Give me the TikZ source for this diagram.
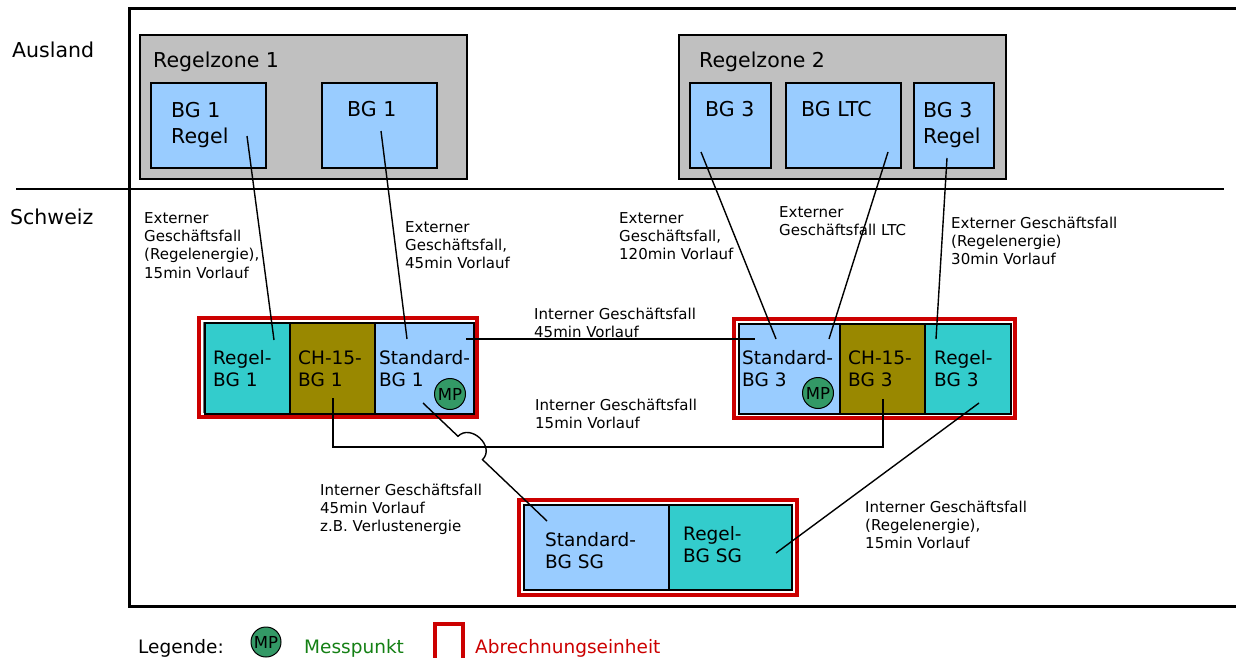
\documentclass[tikz,border=0pt]{standalone}
\usepackage{fontspec}
\setmainfont{DejaVu Sans}
\usetikzlibrary{calc}
\definecolor{zonegray}{RGB}{192,192,192}
\definecolor{bgblue}{RGB}{153,204,255}
\definecolor{bgteal}{RGB}{51,204,204}
\definecolor{bgolive}{RGB}{153,136,0}
\definecolor{aered}{RGB}{204,0,0}
\definecolor{mpgreen}{RGB}{51,153,102}
\definecolor{legendgreen}{RGB}{20,128,20}
\begin{document}
\begin{tikzpicture}[x=1pt,y=-1pt,
  zone/.style={draw=black,line width=1.8pt,fill=zonegray,anchor=north west,inner sep=0pt,outer sep=0pt},
  bgbox/.style={draw=black,line width=1.4pt,anchor=north west,inner sep=0pt,outer sep=0pt},
  ae/.style={draw=aered,line width=4pt,anchor=north west,inner sep=0pt,outer sep=0pt},
  aein/.style={draw=black!55,line width=0.8pt},
  conn/.style={draw=black,line width=1.4pt},
  lbl/.style={anchor=north west,inner sep=0pt,align=left,font=\fontsize{15}{18.3}\selectfont},
  bigtxt/.style={anchor=north west,inner sep=0pt,align=left,font=\fontsize{20.5}{26}\selectfont},
  bigone/.style={anchor=base west,inner sep=0pt,font=\fontsize{20.5}{26}\selectfont},
  midtxt/.style={anchor=north west,inner sep=0pt,align=left,font=\fontsize{18.5}{22}\selectfont},
  legtxt/.style={anchor=base west,inner sep=0pt,font=\fontsize{18.5}{22}\selectfont},
  mp/.style={circle,draw=black,line width=1pt,fill=mpgreen,minimum size=31pt,inner sep=0pt,font=\fontsize{16.5}{18}\selectfont}
]
\clip (0,0) rectangle (1236,658);
\fill[white] (0,0) rectangle (1236,658);

% frame and divider
\draw[line width=3pt] (1240,9) -- (129,9) -- (129,606) -- (1240,606);
\draw[line width=2pt] (16,189) -- (1224,189);
\node[bigone] (ausland) at (12,58) {Ausland};
\node[bigone] (schweiz) at (10,224) {Schweiz};

% Regelzonen
\node[zone,minimum width=327pt,minimum height=144pt] (rz1) at (140,35) {};
\node[bigone] (rz1t) at (153,68) {Regelzone 1};
\node[zone,minimum width=327pt,minimum height=144pt] (rz2) at (679,35) {};
\node[bigone] (rz2t) at (699,68) {Regelzone 2};

\node[bgbox,fill=bgblue,minimum width=115pt,minimum height=85pt] (bg1r) at (151,83) {};
\node[bgbox,fill=bgblue,minimum width=115pt,minimum height=85pt] (bg1) at (322,83) {};
\node[bgbox,fill=bgblue,minimum width=81pt,minimum height=85pt] (bg3) at (690,83) {};
\node[bgbox,fill=bgblue,minimum width=115pt,minimum height=85pt] (bgltc) at (786,83) {};
\node[bgbox,fill=bgblue,minimum width=80pt,minimum height=85pt] (bg3r) at (914,83) {};
\node[bigtxt] (bg1rt) at (171,98.8) {\strut BG 1\\Regel};
\node[bigone] (bg1t) at (347,117) {BG 1};
\node[bigone] (bg3t) at (705,117) {BG 3};
\node[bigone] (bgltct) at (801,117) {BG LTC};
\node[bigtxt] (bg3rt) at (923,98.8) {\strut BG 3\\Regel};

% Abrechnungseinheit links
\node[ae,minimum width=278pt,minimum height=99pt] (ae1) at (199,318) {};
\draw[aein] (203.5,322.5) rectangle (473,412.5);
\node[bgbox,fill=bgteal,minimum width=85pt,minimum height=91pt] (regel1) at (205,323) {};
\node[bgbox,fill=bgolive,minimum width=85pt,minimum height=91pt] (ch1) at (290,323) {};
\node[bgbox,fill=bgblue,minimum width=99pt,minimum height=91pt] (std1) at (375,323) {};
\node[midtxt] (regel1t) at (213,348.6) {\strut Regel-\\BG 1};
\node[midtxt] (ch1t) at (298,348.6) {\strut CH-15-\\BG 1};
\node[midtxt] (std1t) at (379,348.6) {\strut Standard-\\BG 1};

% Abrechnungseinheit rechts
\node[ae,minimum width=281pt,minimum height=99pt] (ae3) at (734,319) {};
\draw[aein] (738.5,323.5) rectangle (1010.5,413.5);
\node[bgbox,fill=bgblue,minimum width=101pt,minimum height=90pt] (std3) at (739,324) {};
\node[bgbox,fill=bgolive,minimum width=85pt,minimum height=90pt] (ch3) at (840,324) {};
\node[bgbox,fill=bgteal,minimum width=86pt,minimum height=90pt] (regel3) at (925,324) {};
\node[midtxt] (std3t) at (742,348.6) {\strut Standard-\\BG 3};
\node[midtxt] (ch3t) at (848,348.6) {\strut CH-15-\\BG 3};
\node[midtxt] (regel3t) at (934,348.6) {\strut Regel-\\BG 3};

% Abrechnungseinheit SG
\node[ae,minimum width=278pt,minimum height=95pt] (aesg) at (519,500) {};
\draw[aein] (523.5,504.5) rectangle (792.5,590.5);
\node[bgbox,fill=bgblue,minimum width=145pt,minimum height=85pt] (stdsg) at (524,505) {};
\node[bgbox,fill=bgteal,minimum width=123pt,minimum height=85pt] (regelsg) at (669,505) {};
\node[midtxt] (stdsgt) at (545,530.6) {\strut Standard-\\BG SG};
\node[midtxt] (regelsgt) at (683,524.6) {\strut Regel-\\BG SG};

% connectors
\draw[conn] ([shift={(96,53)}]bg1r.north west) -- ([shift={(69,17)}]regel1.north west);
\draw[conn] ([shift={(59,48)}]bg1.north west) -- ([shift={(32,16)}]std1.north west);
\draw[conn] ([shift={(91,16)}]std1.north west) -- ([shift={(16,15)}]std3.north west);
\draw[conn] ([shift={(11,69)}]bg3.north west) -- ([shift={(37,15)}]std3.north west);
\draw[conn] ([shift={(102,69)}]bgltc.north west) -- ([shift={(90,15)}]std3.north west);
\draw[conn] ([shift={(33,75)}]bg3r.north west) -- ([shift={(11,15)}]regel3.north west);
\draw[conn] ([shift={(43,75)}]ch1.north west) -- ++(0,49) -| ([shift={(43,75)}]ch3.north west);
\coordinate (s1pt) at ([shift={(48,80)}]std1.north west);
\coordinate (sgpt) at ([shift={(23,16)}]stdsg.north west);
\coordinate (hopA) at ($(s1pt)!0.282!(sgpt)$);
\coordinate (hopB) at ($(s1pt)!0.480!(sgpt)$);
\draw[conn] (s1pt) -- (hopA) .. controls +(13,-13) and +(13,-13) .. (hopB) -- (sgpt);
\draw[conn] ([shift={(107,48)}]regelsg.north west) -- ([shift={(54,79)}]regel3.north west);

% Messpunkte
\node[mp] (mp1) at (450,394) {MP};
\node[mp] (mp3) at (818,393) {MP};

% labels
\node[lbl] (ext1) at (144,210.2) {\strut Externer\\Geschäftsfall\\(Regelenergie),\\15min Vorlauf};
\node[lbl] (ext2) at (405,219.2) {\strut Externer\\Geschäftsfall,\\45min Vorlauf};
\node[lbl] (ext3) at (619,210.2) {\strut Externer\\Geschäftsfall,\\120min Vorlauf};
\node[lbl] (ext4) at (779,204.2) {\strut Externer\\Geschäftsfall LTC};
\node[lbl] (ext5) at (951,215.2) {\strut Externer Geschäftsfall\\(Regelenergie)\\30min Vorlauf};
\node[lbl] (int1) at (534,306.2) {\strut Interner Geschäftsfall\\45min Vorlauf};
\node[lbl] (int2) at (535,397.2) {\strut Interner Geschäftsfall\\15min Vorlauf};
\node[lbl] (int3) at (320,482.2) {\strut Interner Geschäftsfall\\45min Vorlauf\\z.B. Verlustenergie};
\node[lbl] (int4) at (865,499.2) {\strut Interner Geschäftsfall\\(Regelenergie),\\15min Vorlauf};

% legend
\node[legtxt] (leg) at (138,653) {Legende:};
\node[mp,minimum size=30pt] (legmp) at (266,642) {MP};
\node[legtxt,text=legendgreen] (legmess) at (304,653) {Messpunkt};
\node[ae,minimum width=28pt,minimum height=50pt] (legae) at (435,624) {};
\node[legtxt,text=aered] (legabr) at (475,653) {Abrechnungseinheit};
\end{tikzpicture}
\end{document}
